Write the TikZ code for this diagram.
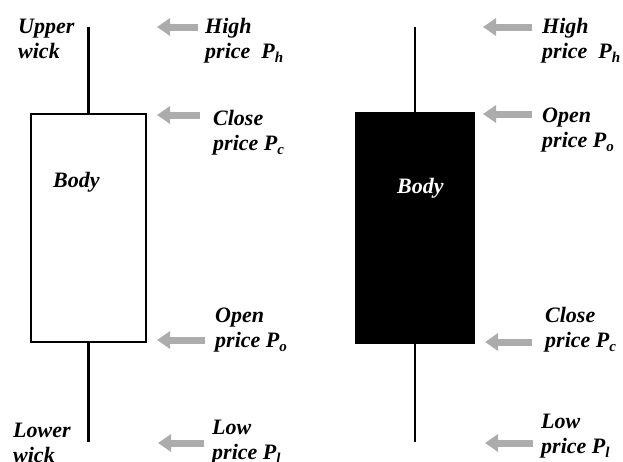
\documentclass[tikz,border=0pt]{standalone}
\usepackage{fontspec}
\setmainfont{Liberation Serif}
\usetikzlibrary{arrows.meta, positioning}
\definecolor{arrowgray}{RGB}{172,172,172}
\newcommand{\psub}[1]{P\raisebox{-4pt}{\fontsize{15}{15}\selectfont #1}}
\tikzset{
    every node/.style={font=\fontsize{22}{25}\selectfont\bfseries\itshape}, % labels in bold italic
    label text/.style={anchor=base west, align=left, inner sep=0pt}, % two line labels, placed by the last line
    candle/.style={draw=black, line width=2.2pt, inner sep=0pt}, % candle body
    wick/.style={line width=2.2pt}, % thin wick lines
    price arrow/.style={draw=arrowgray, line width=7pt, -{Triangle[length=13pt, width=17pt]}}, % gray pointers
}
\begin{document}
\begin{tikzpicture}[x=1pt, y=-1pt]
    \useasboundingbox (0,0) rectangle (623,461);

    % white candle (bullish)
    \node[candle, fill=white, minimum width=115pt, minimum height=228pt] (wbody) at (88.5,228) {};
    \coordinate (whigh) at (88.5,27);
    \coordinate (wlow) at (88.5,442);
    \draw[wick] (wbody.north) -- (whigh);
    \draw[wick] (wbody.south) -- (wlow);
    \node[label text] (wbodytext) at (53,187) {Body};

    % black candle (bearish)
    \node[candle, fill=black, minimum width=118pt, minimum height=230pt] (bbody) at (415,228) {};
    \coordinate (bhigh) at (415,27);
    \coordinate (blow) at (415,442);
    \draw[wick] (bbody.north) -- (bhigh);
    \draw[wick] (bbody.south) -- (blow);
    \node[label text, text=white] (bbodytext) at (397,193) {Body};

    % wick names
    \node[label text] (upper) at (18,58) {Upper\\wick};
    \node[label text] (lower) at (13,462) {Lower\\wick};

    % labels of the white candle
    \node[label text] (whightext) at (205,58) {High\\price\ \ \psub{h}};
    \node[label text] (wclosetext) at (213,150) {Close\\price \psub{c}};
    \node[label text] (wopentext) at (215,347) {Open\\price \psub{o}};
    \node[label text] (wlowtext) at (212,459) {Low\\price \psub{l}};

    % labels of the black candle
    \node[label text] (bhightext) at (542,58) {High\\price\ \ \psub{h}};
    \node[label text] (bopentext) at (542,147) {Open\\price \psub{o}};
    \node[label text] (bclosetext) at (545,347) {Close\\price \psub{c}};
    \node[label text] (blowtext) at (541,453) {Low\\price \psub{l}};

    % arrow ends
    \coordinate (wa1) at (198,27);  \coordinate (wt1) at (157,27);
    \coordinate (wa2) at (200,115); \coordinate (wt2) at (157,115);
    \coordinate (wa3) at (205,340); \coordinate (wt3) at (157,340);
    \coordinate (wa4) at (204,443); \coordinate (wt4) at (158,443);
    \coordinate (ba1) at (532,27);  \coordinate (bt1) at (483,27);
    \coordinate (ba2) at (532,114); \coordinate (bt2) at (483,114);
    \coordinate (ba3) at (532,342); \coordinate (bt3) at (485,342);
    \coordinate (ba4) at (533,443); \coordinate (bt4) at (485,443);

    \foreach \i in {1,...,4} {
        \draw[price arrow] (wa\i) -- (wt\i);
        \draw[price arrow] (ba\i) -- (bt\i);
    }
\end{tikzpicture}
\end{document}
